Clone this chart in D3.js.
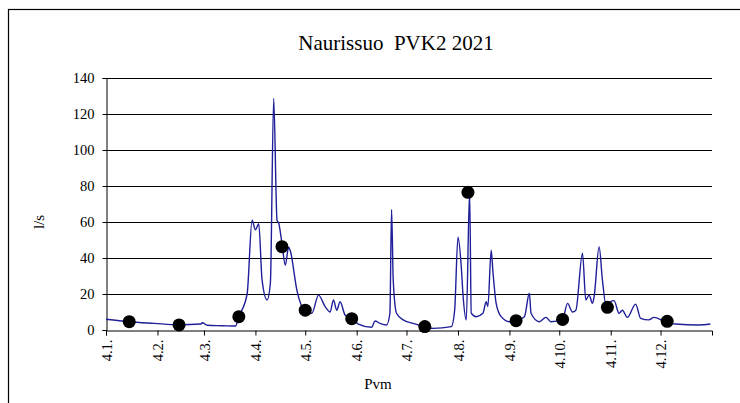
<!DOCTYPE html>
<html lang="fi">
<head>
  <meta charset="UTF-8">
  <title>Naurissuo PVK2 2021</title>
  <script src="https://d3js.org/d3.v7.min.js"></script>
  <style>
    body { margin: 0; background: #fff; }
    svg text { font-family: "Times New Roman", "Liberation Serif", "DejaVu Serif", serif; fill: #000; }
    .grid-line { stroke: #000; stroke-width: 1; }
  </style>
</head>
<body>
<script>
  // Data (continuous flow, l/s)
  const flowDates = ['2021-01-04', '2021-01-18', '2021-02-02', '2021-02-17', '2021-03-02', '2021-03-03', '2021-03-06',
    '2021-03-15', '2021-03-23', '2021-03-25', '2021-03-30', '2021-04-02', '2021-04-04', '2021-04-06', '2021-04-08',
    '2021-04-11', '2021-04-13', '2021-04-15', '2021-04-17', '2021-04-18', '2021-04-20', '2021-04-22', '2021-04-24',
    '2021-04-25', '2021-04-29', '2021-05-02', '2021-05-04', '2021-05-08', '2021-05-12', '2021-05-16', '2021-05-19',
    '2021-05-21', '2021-05-23', '2021-05-25', '2021-05-28', '2021-06-01', '2021-06-05', '2021-06-13', '2021-06-15',
    '2021-06-18', '2021-06-22', '2021-06-24', '2021-06-25', '2021-06-26', '2021-06-28', '2021-07-02', '2021-07-08',
    '2021-07-15', '2021-07-20', '2021-07-31', '2021-08-02', '2021-08-04', '2021-08-06', '2021-08-07', '2021-08-09',
    '2021-08-11', '2021-08-12', '2021-08-15', '2021-08-19', '2021-08-21', '2021-08-22', '2021-08-24', '2021-08-25',
    '2021-08-27', '2021-08-30', '2021-09-04', '2021-09-08', '2021-09-13', '2021-09-16', '2021-09-17', '2021-09-22',
    '2021-09-26', '2021-09-29', '2021-10-06', '2021-10-09', '2021-10-12', '2021-10-14', '2021-10-18', '2021-10-20',
    '2021-10-22', '2021-10-24', '2021-10-25', '2021-10-28', '2021-10-30', '2021-11-01', '2021-11-06', '2021-11-09',
    '2021-11-11', '2021-11-14', '2021-11-19', '2021-11-22', '2021-11-27', '2021-11-30', '2021-12-07', '2021-12-13',
    '2021-12-27', '2022-01-03'];
  const flowValues = [6, 4.6, 3.7, 2.9, 3.3, 4, 2.6,
    2.4, 2.2, 7.4, 20, 61, 55.6, 59, 27.8,
    16.7, 26, 128.7, 61, 59.4, 48, 36, 46,
    44, 22, 13, 11, 9.3, 19.4, 13, 10,
    16.7, 11, 15.7, 8.3, 6.3, 3.3, 1.5, 5,
    3.7, 2.8, 9.3, 67, 27.8, 9.3, 5.6, 3.7,
    1.9, 0.9, 1.9, 11, 51.5, 35, 20, 5.6,
    77, 9.3, 7.4, 9.3, 15.7, 13, 44.4, 33,
    14.8, 7.4, 4.6, 5.2, 7.4, 20.4, 9.3, 4.6,
    7, 4.6, 5.9, 14.8, 10, 11, 42.6, 16.7,
    19.4, 14.8, 18.5, 46.3, 27.8, 14.8, 16.3, 9.3,
    11, 7, 14.4, 6.5, 5.6, 7, 4.6, 3.3,
    2.8, 3.3];

  // Data (measurement points)
  const sampleDates = ['2021-01-18', '2021-02-17', '2021-03-25', '2021-04-20', '2021-05-04', '2021-06-01',
    '2021-07-15', '2021-08-10', '2021-09-08', '2021-10-06', '2021-11-02', '2021-12-08'];
  const sampleValues = [4.6, 2.8, 7.4, 46.3, 11, 6.3, 1.9, 76.5, 5.2, 5.9, 12.6, 4.8];

  const yTicks = [0, 20, 40, 60, 80, 100, 120, 140];

  const serif = '"Times New Roman", "Liberation Serif", "DejaVu Serif", serif';
  const parse = d3.timeParse('%Y-%m-%d');
  const flow = flowDates.map((d, i) => ({date: parse(d), value: flowValues[i]}));
  const samples = sampleDates.map((d, i) => ({date: parse(d), value: sampleValues[i]}));

  const width = 740, height = 403;
  const margin = {top: 78, right: 28, bottom: 73, left: 106};

  const svg = d3.select('body').append('svg')
    .attr('width', width)
    .attr('height', height)
    .style('font-family', serif);

  // chart frame
  svg.append('rect')
    .attr('x', 8.5).attr('y', 9.5)
    .attr('width', 800).attr('height', 500)
    .attr('fill', 'none').attr('stroke', '#000').attr('stroke-width', 1.2);

  const x = d3.scaleTime()
    .domain([parse('2021-01-04'), parse('2022-01-04')])
    .range([margin.left, width - margin.right]);

  const y = d3.scaleLinear()
    .domain([0, 140])
    .range([height - margin.bottom, margin.top]);

  // horizontal grid
  svg.selectAll('.grid-line')
    .data(yTicks.filter(t => t > 0))
    .join('line')
    .attr('class', 'grid-line')
    .attr('x1', margin.left)
    .attr('x2', width - margin.right)
    .attr('y1', d => Math.round(y(d)) + 0.5)
    .attr('y2', d => Math.round(y(d)) + 0.5);

  // y axis
  const yAxis = svg.append('g')
    .attr('transform', `translate(${margin.left + 0.5},0)`)
    .call(d3.axisLeft(y).tickValues(yTicks).tickSize(4).tickPadding(8))
    .attr('font-family', null);
  yAxis.select('.domain').attr('stroke', '#000');
  yAxis.selectAll('text').attr('font-size', 14.5);

  // x axis
  const monthTicks = d3.range(0, 12).map(m => new Date(2021, m, 4));
  const xAxis = svg.append('g')
    .attr('transform', `translate(0,${Math.round(y(0)) + 0.5})`)
    .call(d3.axisBottom(x).tickValues(monthTicks).tickSize(5)
      .tickFormat(d => `${d.getDate()}.${d.getMonth() + 1}.`))
    .attr('font-family', null);
  xAxis.select('.domain').attr('stroke', '#000');
  xAxis.selectAll('text')
    .attr('font-size', 14.5)
    .attr('text-anchor', 'end')
    .attr('transform', 'rotate(-90)')
    .attr('x', -9)
    .attr('y', 0)
    .attr('dy', '0.35em');

  // flow line
  svg.append('path')
    .datum(flow)
    .attr('fill', 'none')
    .attr('stroke', '#1f1f9a')
    .attr('stroke-width', 1.4)
    .attr('stroke-linejoin', 'round')
    .attr('d', d3.line().curve(d3.curveMonotoneX).x(d => x(d.date)).y(d => y(d.value)));

  // sample points
  svg.selectAll('circle')
    .data(samples)
    .join('circle')
    .attr('cx', d => x(d.date))
    .attr('cy', d => y(d.value))
    .attr('r', 6.5)
    .attr('fill', '#000');

  // titles
  svg.append('text')
    .attr('x', 396).attr('y', 50)
    .attr('text-anchor', 'middle')
    .style('font-size', '21px')
    .text('Naurissuo\u00a0 PVK2 2021');

  svg.append('text')
    .attr('x', 378).attr('y', 389)
    .attr('text-anchor', 'middle')
    .style('font-size', '15px')
    .text('Pvm');

  svg.append('text')
    .attr('transform', 'translate(44,222) rotate(-90)')
    .attr('text-anchor', 'middle')
    .style('font-size', '15px')
    .text('l/s');
</script>
</body>
</html>
